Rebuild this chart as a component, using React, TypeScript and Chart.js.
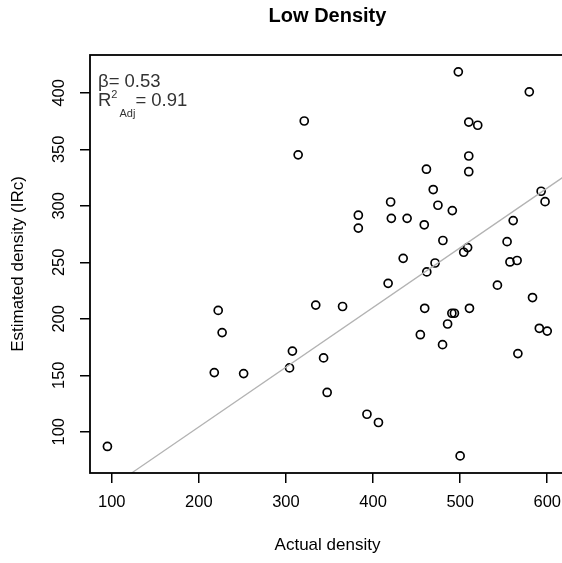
import React, { useEffect, useRef } from "react";
import { Chart, registerables } from "chart.js";

Chart.register(...registerables);

const titleText = "Low Density";
const xTitle = "Actual density";
const yTitle = "Estimated density (IRc)";
const betaText = "β= 0.53";
const r2Value = "= 0.91";

const actualDensity = [
  95, 217.7, 222.2, 226.7, 251.4, 304.1, 307.4, 314.0, 321.0, 334.2,
  343.2, 347.3, 365.0, 383.1, 383.1, 393.0, 406.2, 417.3, 420.2, 421.0,
  434.6, 439.1, 454.3, 458.8, 459.3, 461.3, 461.7, 469.1, 471.2, 474.5,
  479.8, 480.2, 485.6, 491.0, 490.5, 493.4, 497.9, 500.0, 504.1, 508.6,
  509.9, 509.9, 509.9, 510.7, 520.2, 542.8, 553.9, 557.2, 560.9, 565.4,
  566.3, 579.4, 583.1, 590.9, 593.0, 597.5, 600.0,
];
const estimatedDensity = [
  87, 152.4, 207.4, 187.8, 151.5, 156.5, 171.4, 345.1, 375.1, 212.1,
  165.4, 134.8, 210.9, 291.7, 280.3, 115.5, 108.2, 231.4, 303.4, 288.9,
  253.5, 288.9, 185.9, 283.2, 209.3, 332.4, 241.5, 314.4, 249.4, 300.5,
  177.1, 269.3, 195.4, 295.8, 204.9, 204.9, 418.6, 78.6, 258.9, 263.0,
  374.1, 344.1, 330.2, 209.3, 371.3, 229.8, 268.3, 250.3, 286.9, 251.6,
  169.2, 400.9, 218.8, 191.6, 312.9, 303.7, 189.1,
];

const fitX = [122, 620.4];
const fitY = [63.1, 326.5];

const xTicks = [100, 200, 300, 400, 500, 600];
const yTicks = [100, 150, 200, 250, 300, 350, 400];

const FONT = '"Liberation Sans", Arial, Helvetica, sans-serif';

const decorPlugin = {
  id: "decor",
  afterDraw(chart: any) {
    const { ctx, chartArea: a, scales } = chart;
    ctx.save();
    // box
    ctx.strokeStyle = "#000";
    ctx.lineWidth = 1.8;
    ctx.strokeRect(a.left, a.top, a.right - a.left, a.bottom - a.top);

    // main title
    ctx.fillStyle = "#000";
    ctx.font = `bold 20px ${FONT}`;
    ctx.textAlign = "center";
    ctx.textBaseline = "alphabetic";
    ctx.fillText(titleText, (a.left + a.right) / 2, 22);

    // y tick labels (rotated, R style)
    const ys = scales.y;
    ctx.font = `16.5px ${FONT}`;
    ys.ticks.forEach((t: any) => {
      const p = ys.getPixelForValue(t.value);
      ctx.save();
      ctx.translate(59.5, p);
      ctx.rotate(-Math.PI / 2);
      ctx.textAlign = "center";
      ctx.textBaseline = "middle";
      ctx.fillText(String(t.value), 0, 0);
      ctx.restore();
    });

    // annotation
    ctx.fillStyle = "#333";
    ctx.textAlign = "left";
    ctx.textBaseline = "alphabetic";
    ctx.font = `18.5px ${FONT}`;
    const ax = a.left + 8;
    ctx.fillText(betaText, ax, 86.5);
    ctx.fillText("R", ax, 106);
    const rW = ctx.measureText("R").width;
    ctx.font = `11px ${FONT}`;
    ctx.fillText("2", ax + rW, 98);
    const twoW = ctx.measureText("2").width;
    ctx.fillText("Adj", ax + rW + twoW + 2, 117);
    const adjW = ctx.measureText("Adj").width;
    ctx.font = `18.5px ${FONT}`;
    ctx.fillText(r2Value, ax + rW + twoW + 2 + adjW, 106);
    ctx.restore();
  },
};

export default function App() {
  const ref = useRef<HTMLCanvasElement | null>(null);

  useEffect(() => {
    if (!ref.current) return;
    const points = actualDensity.map((x, i) => ({ x, y: estimatedDensity[i] }));
    const fit = fitX.map((x, i) => ({ x, y: fitY[i] }));
    const chart = new Chart(ref.current, {
      type: "scatter",
      data: {
        datasets: [
          {
            data: fit,
            showLine: true,
            borderColor: "#b3b3b3",
            borderWidth: 1.3,
            pointRadius: 0,
            fill: false,
          } as any,
          {
            data: points,
            pointRadius: 4,
            pointBorderWidth: 1.7,
            pointBorderColor: "#000",
            pointBackgroundColor: "rgba(0,0,0,0)",
          } as any,
        ],
      },
      options: {
        animation: false,
        responsive: false,
        devicePixelRatio: 1,
        layout: { padding: { top: 55, right: 35, left: 0, bottom: 0 } },
        plugins: {
          legend: { display: false },
          tooltip: { enabled: false },
          title: { display: false },
        },
        scales: {
          x: {
            type: "linear",
            min: 75,
            max: 620.4,
            afterBuildTicks: (s: any) => {
              s.ticks = xTicks.map((v) => ({ value: v }));
            },
            afterFit: (s: any) => {
              s.height = 90;
            },
            border: { display: false },
            grid: {
              drawOnChartArea: false,
              drawTicks: true,
              tickLength: 10,
              color: "#000",
              lineWidth: 1.5,
            },
            ticks: {
              color: "#000",
              font: { family: FONT, size: 16.5 },
              padding: 10,
              maxRotation: 0,
              autoSkip: false,
              callback: (v: any) => String(v),
            },
            title: {
              display: true,
              text: xTitle,
              color: "#000",
              font: { family: FONT, size: 17 },
              padding: { top: 0, bottom: 7 },
            },
          },
          y: {
            type: "linear",
            min: 63.5,
            max: 433.5,
            afterBuildTicks: (s: any) => {
              s.ticks = yTicks.map((v) => ({ value: v }));
            },
            afterFit: (s: any) => {
              s.width = 90;
            },
            border: { display: false },
            grid: {
              drawOnChartArea: false,
              drawTicks: true,
              tickLength: 10,
              color: "#000",
              lineWidth: 1.5,
            },
            ticks: { display: false },
            title: {
              display: true,
              text: yTitle,
              color: "#000",
              font: { family: FONT, size: 17 },
              padding: { top: 8, bottom: 0 },
            },
          },
        },
      },
      plugins: [decorPlugin],
    } as any);
    return () => chart.destroy();
  }, []);

  return (
    <div
      style={{
        position: "fixed",
        left: 0,
        top: 0,
        width: 562,
        height: 563,
        overflow: "hidden",
        background: "#fff",
      }}
    >
      <canvas
        ref={ref}
        width={600}
        height={563}
        style={{ display: "block", width: 600, height: 563 }}
      />
    </div>
  );
}
